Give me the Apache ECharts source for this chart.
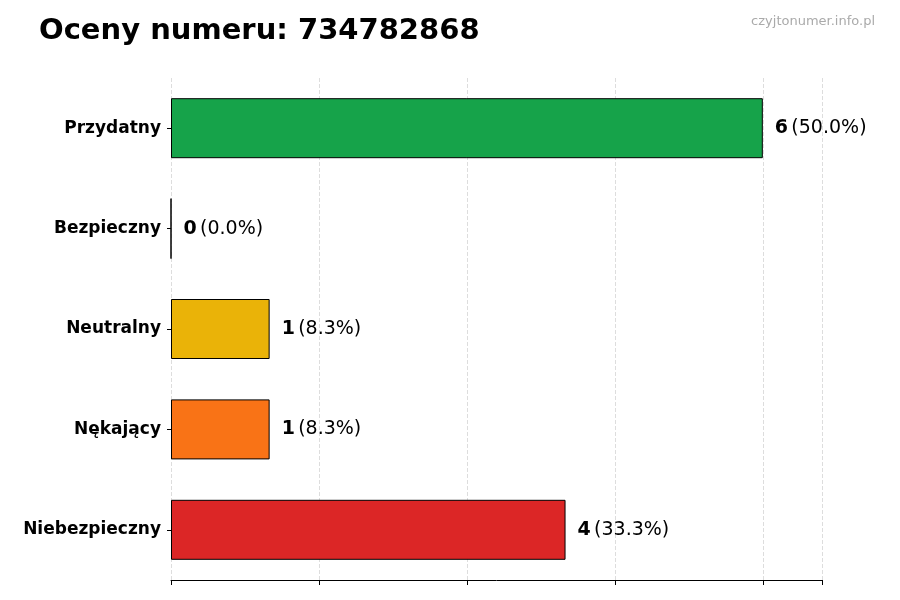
<!DOCTYPE html>
<html>
<head>
    <meta charset="utf-8">
    <script src="https://cdn.jsdelivr.net/npm/echarts@6/dist/echarts.min.js"></script>
</head>
<body style="margin:0">
    <div id="chart" style="width: 900px; height: 600px;"></div>
    <script>
        var categories = ["Niebezpieczny", "Nękający", "Neutralny", "Bezpieczny", "Przydatny"];
        var counts = [4, 1, 1, 0, 6];
        var percents = ["33.3%", "8.3%", "8.3%", "0.0%", "50.0%"];
        var colors = ["#dc2626", "#f97316", "#eab308", "#16a34a", "#16a34a"];

        var chart = echarts.init(document.querySelector("#chart"));
        var option = {
          title: [
            { text: "Oceny numeru: 734782868", left: 34, top: 12,
              textStyle: { fontSize: 29, fontWeight: "bold", color: "#000", fontFamily: "DejaVu Sans" } },
            { text: "czyjtonumer.info.pl", right: 20, top: 10,
              textStyle: { fontSize: 13, fontWeight: "normal", color: "#aaa", fontFamily: "DejaVu Sans" } }
          ],
          grid: { left: 171, right: 78, top: 78, bottom: 20 },
          xAxis: {
            type: "value", min: 0, max: 6.6, interval: 1.5,
            axisLine: { show: true, lineStyle: { color: "#000" } },
            axisTick: { show: true, length: 5, lineStyle: { color: "#000" } },
            axisLabel: { show: false },
            splitLine: { show: true, lineStyle: { type: "dashed", color: "#ddd" } }
          },
          yAxis: {
            type: "category", data: categories,
            axisLine: { show: false },
            axisTick: { show: true, alignWithLabel: true, length: 4, lineStyle: { color: "#000" } },
            axisLabel: { fontSize: 17, fontWeight: "bold", color: "#000", fontFamily: "DejaVu Sans", margin: 10 }
          },
          series: [{
            type: "bar", barWidth: 60,
            data: counts.map(function (v, i) {
              return { value: v, itemStyle: { color: colors[i], borderColor: "#000", borderWidth: 1 } };
            }),
            label: {
              show: true, position: "right", distance: 12,
              formatter: function (p) { return "{b|" + p.value + "} {n|(" + percents[p.dataIndex] + ")}"; },
              rich: {
                b: { fontSize: 19, fontWeight: "bold", color: "#000", fontFamily: "DejaVu Sans" },
                n: { fontSize: 19, color: "#000", fontFamily: "DejaVu Sans" }
              }
            }
          }]
        };
        chart.setOption(option);
    </script>
</body>
</html>
